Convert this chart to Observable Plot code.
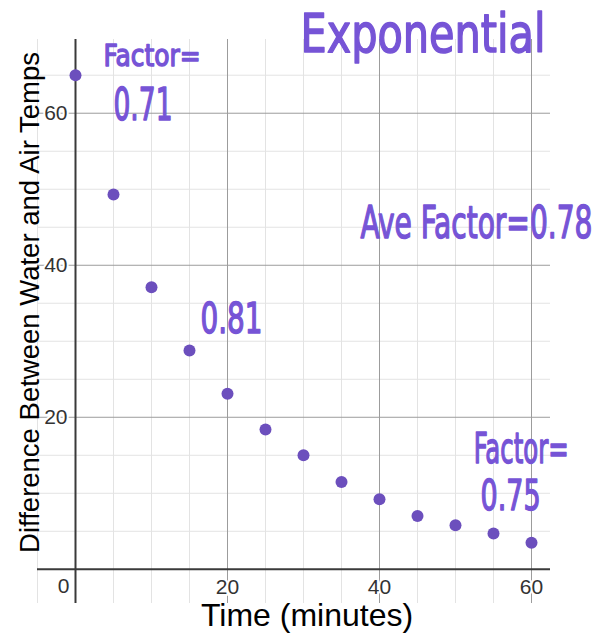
<!DOCTYPE html>
<html>
<head>
<meta charset="utf-8">
<script src="https://cdn.jsdelivr.net/npm/d3@7"></script>
<script src="https://cdn.jsdelivr.net/npm/@observablehq/plot@0.6"></script>
<style>
  html, body { margin: 0; padding: 0; background: white; }
</style>
</head>
<body>
<div id="chart"></div>
<script>
// Data
const times = [0, 5, 10, 15, 20, 25, 30, 35, 40, 45, 50, 55, 60];
const diffs = [65, 49.3, 37.1, 28.8, 23.1, 18.4, 15.0, 11.5, 9.2, 7.0, 5.8, 4.7, 3.5];

const xMajorTicks = [20, 40, 60];
const yMajorTicks = [20, 40, 60];
const xMinorGrid = [-5, 5, 10, 15, 25, 30, 35, 45, 50, 55];
const yMinorGrid = [5, 10, 15, 25, 30, 35, 45, 50, 55, 65];

const xTitle = "Time (minutes)";
const yTitle = "Difference Between Water and Air Temps";

// Handwritten annotations (placed in data units)
const annoText = ["Exponential", "Factor=", "0.71", "0.81", "Ave Factor=0.78", "Factor=", "0.75"];
const annoX = [29.6, 3.7, 5.0, 16.45, 37.5, 52.4, 53.3];
const annoY = [68.0, 66.2, 59.1, 31.05, 43.55, 13.95, 7.76];

// Styles (kept separate from data)
const annoFontSize = [54, 31, 44, 42, 44, 42, 42];
const annoWidth = [245, 97, 59, 62, 232, 95, 60];

const points = times.map((t, i) => ({t, d: diffs[i]}));
const annotations = annoText.map((text, i) => ({text, x: annoX[i], y: annoY[i], size: annoFontSize[i]}));

const purple = "#6c4fbd";
const ink = "#7654d6";

const chart = Plot.plot({
  width: 609,
  height: 635,
  marginLeft: 37,
  marginRight: 59,
  marginTop: 39,
  marginBottom: 32,
  x: {domain: [-5, 62.5], axis: null},
  y: {domain: [-4.5, 69.7], axis: null},
  style: {fontFamily: "'Liberation Sans', Arial, sans-serif", background: "white", overflow: "visible"},
  marks: [
    Plot.ruleX(xMinorGrid, {stroke: "#e3e3e3", strokeWidth: 1}),
    Plot.ruleY(yMinorGrid, {stroke: "#e3e3e3", strokeWidth: 1}),
    Plot.ruleX(xMajorTicks, {stroke: "#9c9c9c", strokeWidth: 1}),
    Plot.ruleY(yMajorTicks, {stroke: "#9c9c9c", strokeWidth: 1}),
    Plot.ruleX([0], {stroke: "#3a3a3a", strokeWidth: 2}),
    Plot.ruleY([0], {stroke: "#3a3a3a", strokeWidth: 2}),
    Plot.text(yMajorTicks, {x: 0, y: d => d, text: d => String(d), textAnchor: "end", dx: -8, fontSize: 21, fill: "#333", stroke: "white", strokeWidth: 4}),
    Plot.text(xMajorTicks, {x: d => d, y: 0, text: d => String(d), dy: 18, fontSize: 21, fill: "#333", stroke: "white", strokeWidth: 4}),
    Plot.text([0], {x: 0, y: 0, text: d => String(d), dx: -12, dy: 17, fontSize: 21, fill: "#333", stroke: "white", strokeWidth: 4}),
    Plot.dot(points, {x: "t", y: "d", r: 6, fill: purple, stroke: "none"}),
    Plot.text([yTitle], {frameAnchor: "left", text: d => d, rotate: -90, textAnchor: "middle", lineAnchor: "bottom", dx: 1, dy: -19, fontSize: 27.5, fill: "black"}),
    Plot.text([xTitle], {frameAnchor: "bottom", text: d => d, textAnchor: "middle", lineAnchor: "bottom", dx: 13, dy: 22, fontSize: 32, fill: "black"}),
    Plot.text(annotations, {x: "x", y: "y", text: "text", fontSize: "size", textAnchor: "start", lineAnchor: "bottom", fill: ink, fontWeight: "normal", stroke: ink, strokeWidth: 1.4, fontFamily: "'Liberation Sans Narrow', 'DejaVu Sans Condensed', sans-serif"})
  ]
});

document.getElementById("chart").appendChild(chart);

// Squeeze handwritten-style annotations horizontally to their widths
const textGroups = chart.querySelectorAll('g[aria-label="text"]');
const annoGroup = textGroups[textGroups.length - 1];
annoGroup.querySelectorAll("text").forEach((el, i) => {
  const natural = el.getComputedTextLength();
  if (natural > 0) {
    const s = annoWidth[i] / natural;
    const t = el.getAttribute("transform") || "";
    el.setAttribute("transform", `${t} scale(${s},1)`);
  }
});
</script>
</body>
</html>
